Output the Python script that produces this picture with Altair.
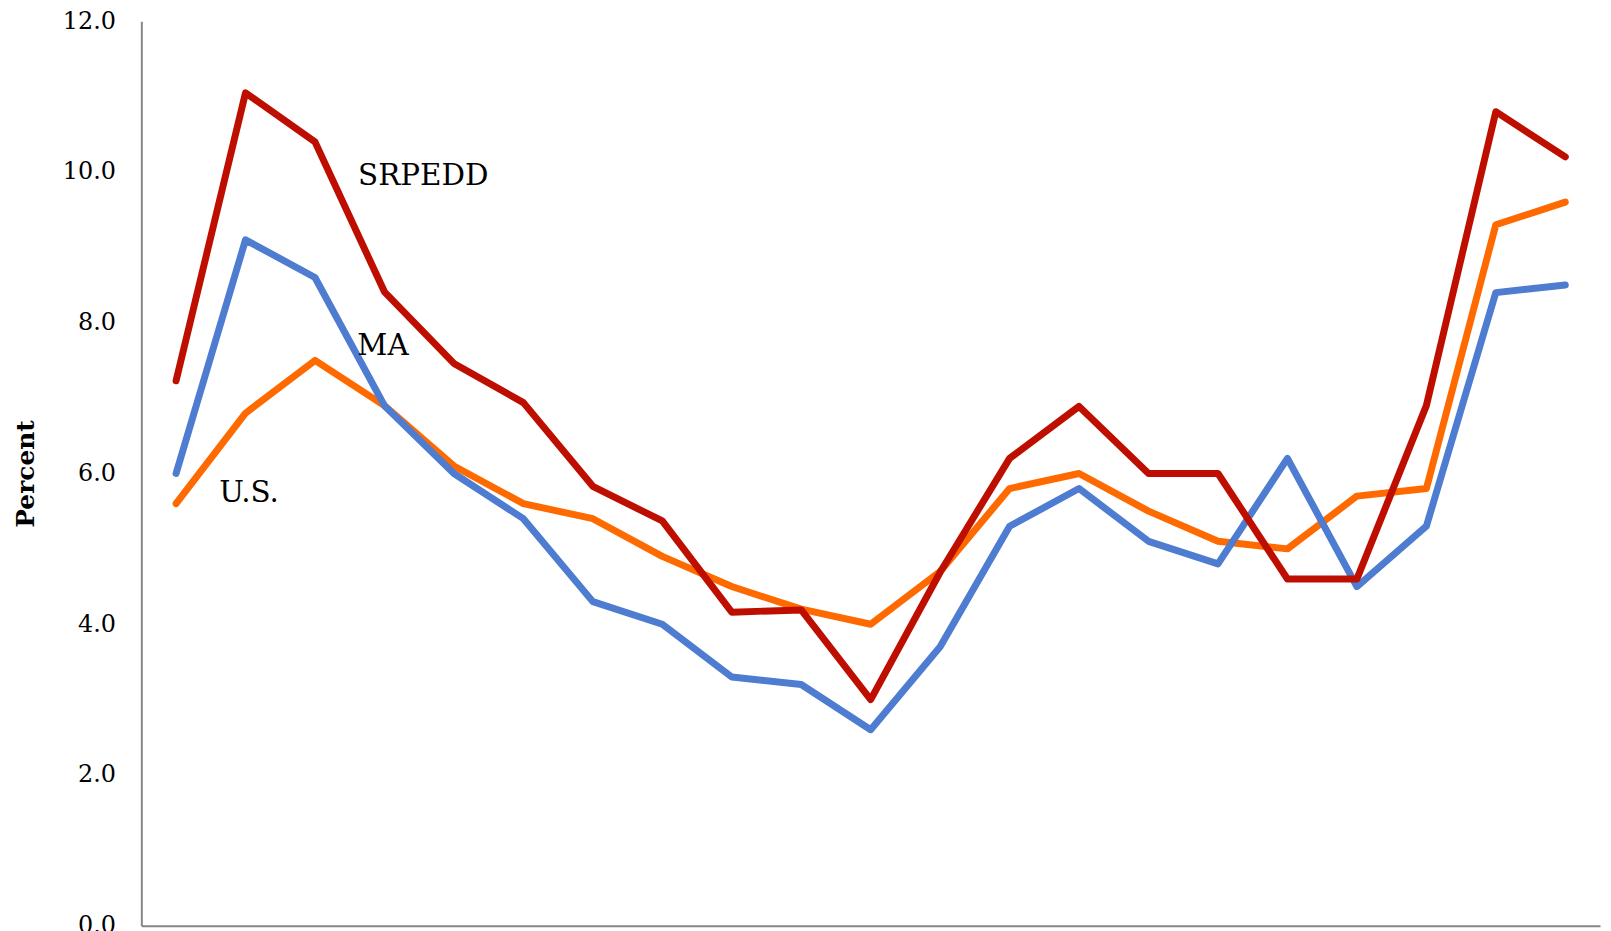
import altair as alt
import pandas as pd

# ---- data ----
years = list(range(1990, 2011))
srpedd = [7.23, 11.05, 10.40, 8.41, 7.46, 6.94, 5.83, 5.37, 4.16, 4.19, 3.0,
          4.69, 6.20, 6.89, 6.0, 6.0, 4.6, 4.6, 6.9, 10.8, 10.2]
ma = [6.0, 9.1, 8.6, 6.9, 6.0, 5.4, 4.3, 4.0, 3.3, 3.2, 2.6,
      3.7, 5.3, 5.8, 5.1, 4.8, 6.2, 4.5, 5.3, 8.4, 8.5]
us = [5.6, 6.8, 7.5, 6.9, 6.1, 5.6, 5.4, 4.9, 4.5, 4.2, 4.0,
      4.7, 5.8, 6.0, 5.5, 5.1, 5.0, 5.7, 5.8, 9.3, 9.6]

series_names = ["SRPEDD", "MA", "U.S."]
series_colors = ["#BE0E00", "#4E7CD0", "#FF6A00"]
draw_order = ["U.S.", "MA", "SRPEDD"]

# direct labels (data coordinates)
label_names = ["SRPEDD", "MA", "U.S."]
label_x = [1992.62, 1992.61, 1990.62]
label_y = [9.83, 7.57, 5.62]

y_ticks = [0, 2, 4, 6, 8, 10, 12]

# ---- tables ----
rows = []
for name, vals in zip(series_names, [srpedd, ma, us]):
    for yr, v in zip(years, vals):
        rows.append({"year": yr, "value": v, "series": name})
df = pd.DataFrame(rows)
labels_df = pd.DataFrame({"name": label_names, "lx": label_x, "ly": label_y})

x_scale = alt.Scale(domain=[1989.5, 2010.5], nice=False, zero=False)
y_scale = alt.Scale(domain=[0, 12], nice=False)
color_scale = alt.Scale(domain=series_names, range=series_colors)

x_axis = alt.Axis(labels=False, ticks=False, title=None, grid=False,
                  domainColor="#868686", domainWidth=2)
y_axis = alt.Axis(values=y_ticks, format=".1f", title="Percent", grid=False,
                  ticks=False, tickSize=0, labelPadding=26,
                  labelFont="DejaVu Serif", labelFontSize=24, labelColor="#000000",
                  titleFont="DejaVu Serif", titleFontSize=25, titleFontWeight="bold",
                  titleColor="#000000", titlePadding=24,
                  domainColor="#868686", domainWidth=2)

layers = []
for name in draw_order:
    layers.append(
        alt.Chart(df)
        .transform_filter(alt.datum.series == name)
        .mark_line(strokeWidth=7, strokeCap="round", strokeJoin="round")
        .encode(
            x=alt.X("year:Q", scale=x_scale, axis=x_axis),
            y=alt.Y("value:Q", scale=y_scale, axis=y_axis),
            color=alt.Color("series:N", scale=color_scale, legend=None),
        )
    )

text = (
    alt.Chart(labels_df)
    .mark_text(align="left", baseline="alphabetic", font="DejaVu Serif",
               fontSize=29.5, color="#000000")
    .encode(
        x=alt.X("lx:Q", scale=x_scale),
        y=alt.Y("ly:Q", scale=y_scale),
        text="name:N",
    )
)

chart = (
    alt.layer(*layers, text)
    .properties(
        width=1466,
        height=909,
        autosize=alt.AutoSizeParams(type="none"),
        padding={"left": 134, "top": 11, "right": 3, "bottom": 4},
        background="#ffffff",
    )
    .configure_view(stroke=None)
)

chart.save("out.html", embed_options={"renderer": "svg", "actions": False})
